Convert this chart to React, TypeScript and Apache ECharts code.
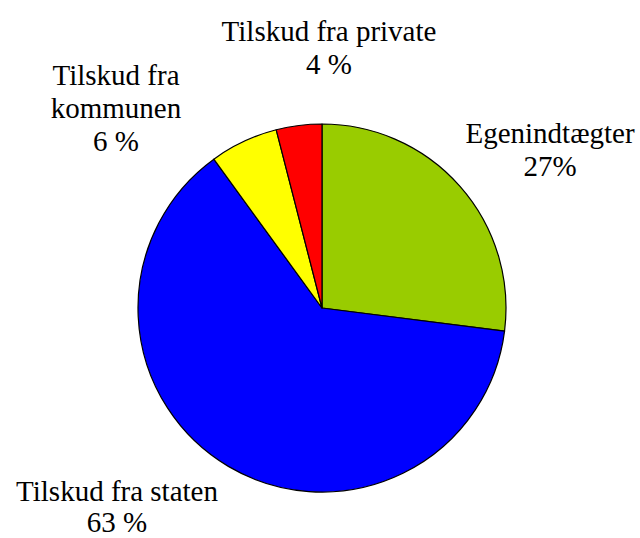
import React, { useEffect, useRef } from "react";
import * as echarts from "echarts";

const categories = ["Egenindtægter", "Tilskud fra staten", "Tilskud fra kommunen", "Tilskud fra private"];
const values = [27, 63, 6, 4];
const labelTexts = ["Egenindtægter\n27%", "Tilskud fra staten\n63 %", "Tilskud fra\nkommunen\n6 %", "Tilskud fra private\n4 %"];
const colors = ["#99CC00", "#0000FF", "#FFFF00", "#FF0000"];
const labelPos = [
  [550, 149],
  [117, 506],
  [116, 108],
  [329, 47],
];
const labelLineHeights = [33, 31, 33, 33];

export default function App() {
  const ref = useRef<HTMLDivElement>(null);
  useEffect(() => {
    const chart = echarts.init(ref.current!, undefined, { renderer: "svg" });
    chart.setOption({
      animation: false,
      backgroundColor: "#ffffff",
      series: [
        {
          type: "pie",
          center: [322, 308],
          radius: 184,
          startAngle: 90,
          clockwise: true,
          data: categories.map((c, i) => ({
            name: c,
            value: values[i],
            itemStyle: { color: colors[i] },
            label: { formatter: labelTexts[i], lineHeight: labelLineHeights[i] },
          })),
          itemStyle: { borderColor: "#000", borderWidth: 1.2 },
          label: {
            show: true,
            position: "outside",
            color: "#000",
            fontFamily: "'Liberation Serif', 'Times New Roman', serif",
            fontSize: 29,
            lineHeight: 33,
            align: "center",
            overflow: "none",
          },
          labelLine: { show: false },
          labelLayout: (p: any) => ({
            x: labelPos[p.dataIndex][0],
            y: labelPos[p.dataIndex][1],
            align: "center",
            verticalAlign: "middle",
          }),
          emphasis: { disabled: true },
        },
      ],
    });
    return () => chart.dispose();
  }, []);
  return <div ref={ref} style={{ position: "fixed", left: 0, top: 0, width: 640, height: 538 }} />;
}
